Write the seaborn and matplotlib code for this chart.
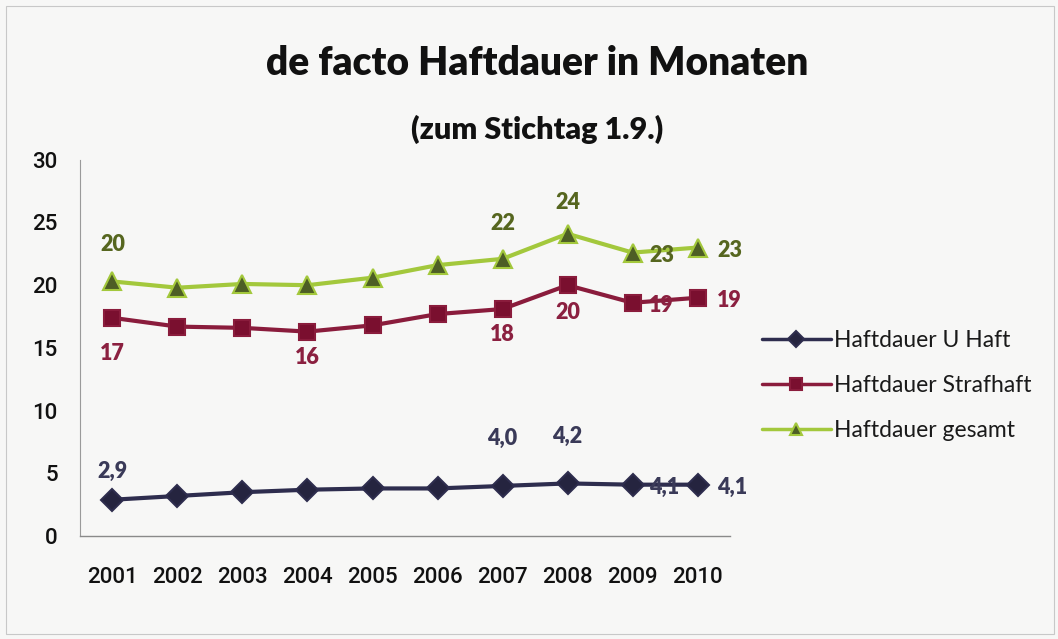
import matplotlib
matplotlib.use("Agg")
import matplotlib.pyplot as plt
import seaborn as sns
import pandas as pd
from matplotlib.patches import Rectangle

# Values
years = ["2001", "2002", "2003", "2004", "2005", "2006", "2007", "2008", "2009", "2010"]
u_haft = [2.9, 3.2, 3.5, 3.7, 3.8, 3.8, 4.0, 4.2, 4.1, 4.1]
strafhaft = [17.4, 16.7, 16.6, 16.3, 16.8, 17.7, 18.1, 20.0, 18.6, 19.0]
gesamt = [20.3, 19.8, 20.1, 20.0, 20.6, 21.6, 22.1, 24.1, 22.6, 23.0]
series_names = ["Haftdauer U Haft", "Haftdauer Strafhaft", "Haftdauer gesamt"]
title = "de facto Haftdauer in Monaten"
subtitle = "(zum Stichtag 1.9.)"
y_ticks = [0, 5, 10, 15, 20, 25, 30]

# Labelled points: side of the marker and distance in points
labelled = {
    "Haftdauer U Haft": {"2001": ("above", 13), "2007": ("above", 27), "2008": ("above", 26),
                         "2009": ("right", 12), "2010": ("right", 14)},
    "Haftdauer Strafhaft": {"2001": ("below", 18), "2004": ("below", 11), "2007": ("below", 11),
                            "2008": ("below", 12), "2009": ("right", 12), "2010": ("right", 14)},
    "Haftdauer gesamt": {"2001": ("above", 19), "2007": ("above", 18), "2008": ("above", 15),
                         "2009": ("right", 12), "2010": ("right", 14)},
}

sns.set_theme(style="white")
plt.rcParams["font.family"] = ["Lato", "DejaVu Sans"]

df = pd.DataFrame({
    "Jahr": years * 3,
    "Monate": u_haft + strafhaft + gesamt,
    "Serie": [series_names[0]] * 10 + [series_names[1]] * 10 + [series_names[2]] * 10,
})

bg = "#f7f7f6"
fig = plt.figure(figsize=(10.58, 6.39), dpi=100, facecolor=bg)
ax = fig.add_axes([0.0756, 0.161, 0.6144, 0.589])
ax.set_facecolor(bg)

line_colors = {series_names[0]: "#2e2d4e", series_names[1]: "#8a1c3c", series_names[2]: "#a3c83c"}
marker_face = {series_names[0]: "#25243f", series_names[1]: "#7a0f2f", series_names[2]: "#4d5e25"}
markers = {series_names[0]: "D", series_names[1]: "s", series_names[2]: "^"}
msize = {series_names[0]: 11, series_names[1]: 12, series_names[2]: 13}
label_colors = {series_names[0]: "#3a3a58", series_names[1]: "#8b2040", series_names[2]: "#56661f"}

for name in series_names:
    sub = df[df["Serie"] == name]
    sns.lineplot(data=sub, x="Jahr", y="Monate", ax=ax, color=line_colors[name],
                 linewidth=3.0, marker=markers[name], markersize=msize[name],
                 markerfacecolor=marker_face[name], markeredgecolor=line_colors[name],
                 markeredgewidth=1.5, label=name, sort=False)

# Value labels
for name, vals in zip(series_names, [u_haft, strafhaft, gesamt]):
    for yr, (pos, dist) in labelled[name].items():
        i = years.index(yr)
        v = vals[i]
        txt = f"{v:.1f}".replace(".", ",") if name == series_names[0] else f"{v:.0f}"
        if pos == "above":
            off, ha, va = (0, dist), "center", "bottom"
        elif pos == "below":
            off, ha, va = (0, -dist), "center", "top"
        else:
            off, ha, va = (dist, -2), "left", "center"
        ax.annotate(txt, (i, v), xytext=off, textcoords="offset points",
                    ha=ha, va=va, fontsize=15.5, fontweight="heavy",
                    color=label_colors[name])

ax.set_ylim(0, 30)
ax.set_xlim(-0.5, 9.5)
ax.set_yticks(y_ticks)
ax.set_yticklabels([str(t) for t in y_ticks])
ax.set_xlabel("")
ax.set_ylabel("")
ax.tick_params(axis="both", labelsize=16, colors="#111111", length=0)
ax.tick_params(axis="x", pad=22)
ax.tick_params(axis="y", pad=16)
for lab in ax.get_xticklabels() + ax.get_yticklabels():
    lab.set_family(["Roboto", "DejaVu Sans"])
    lab.set_fontweight("medium")

for s in ["top", "right"]:
    ax.spines[s].set_visible(False)
ax.spines["left"].set_color("#9a9a9a")
ax.spines["left"].set_linewidth(0.8)
ax.spines["bottom"].set_color("#8a8a8a")
ax.spines["bottom"].set_linewidth(1.0)

leg = ax.legend(loc="center left", bbox_to_anchor=(1.035, 0.40), frameon=False,
                fontsize=16.5, handlelength=3.0, labelspacing=1.05, handletextpad=0.15,
                borderaxespad=0, markerscale=0.7)
for t in leg.get_texts():
    t.set_color("#1a1a1a")
for h in leg.legend_handles:
    h.set_linewidth(2.5)

fig.text(0.508, 0.90, title, ha="center", va="center", fontsize=28,
         fontweight="heavy", color="#111111")
fig.text(0.508, 0.797, subtitle, ha="center", va="center", fontsize=22,
         fontweight="heavy", color="#111111")

# Chart frame
fig.patches.append(Rectangle((0.006, 0.008), 0.99, 0.982, transform=fig.transFigure,
                             fill=False, edgecolor="#c8c8c8", linewidth=0.8))

fig.savefig("out.png", dpi=100, facecolor=bg)
